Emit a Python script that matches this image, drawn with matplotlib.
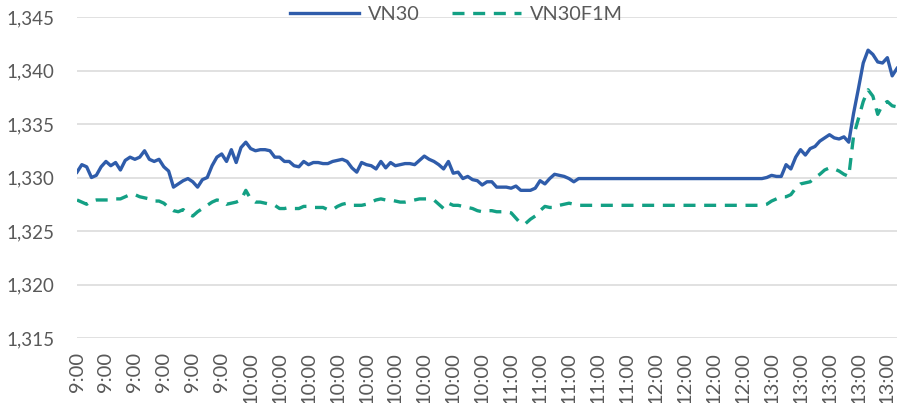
import matplotlib
matplotlib.use("Agg")
import matplotlib.pyplot as plt
from matplotlib.ticker import FuncFormatter

# VN30 vs VN30F1M trong phien
vn30 = [
    1330.5, 1331.2, 1331.0, 1330.0, 1330.2, 1331.0, 1331.5, 1331.1, 1331.4, 1330.7,
    1331.6, 1331.9, 1331.7, 1331.9, 1332.5, 1331.7, 1331.5, 1331.7, 1331.0, 1330.6,
    1329.1, 1329.4, 1329.7, 1329.9, 1329.6, 1329.1, 1329.8, 1330.0, 1331.1, 1331.9,
    1332.2, 1331.5, 1332.6, 1331.4, 1332.8, 1333.3, 1332.7, 1332.5, 1332.6, 1332.6,
    1332.5, 1331.9, 1331.9, 1331.5, 1331.5, 1331.1, 1331.0, 1331.5, 1331.2, 1331.4,
    1331.4, 1331.3, 1331.3, 1331.5, 1331.6, 1331.7, 1331.5, 1330.9, 1330.5, 1331.4,
    1331.2, 1331.1, 1330.8, 1331.5, 1330.9, 1331.4, 1331.1, 1331.2, 1331.3, 1331.3,
    1331.2, 1331.6, 1332.0, 1331.7, 1331.5, 1331.2, 1330.8, 1331.5, 1330.4, 1330.5,
    1329.9, 1330.1, 1329.8, 1329.7, 1329.3, 1329.6, 1329.6, 1329.1, 1329.1, 1329.1,
    1329.0, 1329.2, 1328.8, 1328.8, 1328.8, 1329.0, 1329.7, 1329.4, 1329.9, 1330.3,
    1330.2, 1330.1, 1329.9, 1329.6, 1329.9,
    1329.9, 1329.9, 1329.9, 1329.9, 1329.9, 1329.9, 1329.9, 1329.9, 1329.9, 1329.9,
    1329.9, 1329.9, 1329.9, 1329.9, 1329.9, 1329.9, 1329.9, 1329.9, 1329.9, 1329.9,
    1329.9, 1329.9, 1329.9, 1329.9, 1329.9, 1329.9, 1329.9, 1329.9, 1329.9, 1329.9,
    1329.9, 1329.9, 1329.9, 1329.9, 1329.9, 1329.9, 1329.9, 1329.9,
    1330.0, 1330.2, 1330.1, 1330.1, 1331.2, 1330.8, 1331.9, 1332.6, 1332.1, 1332.7,
    1332.9, 1333.4, 1333.7, 1334.0, 1333.7, 1333.6, 1333.8, 1333.3, 1336.0, 1338.3,
    1340.7, 1341.9, 1341.5, 1340.8, 1340.7, 1341.2, 1339.5, 1340.2,
]

vn30f1m = [
    1327.9, 1327.7, 1327.5, 1327.8, 1327.9, 1327.9, 1327.9, 1327.9, 1328.0, 1328.0,
    1328.2, 1328.4, 1328.4, 1328.2, 1328.1, 1328.0, 1327.8, 1327.8, 1327.6, 1327.2,
    1326.9, 1326.8, 1327.0, 1326.6, 1326.4, 1326.8, 1327.1, 1327.4, 1327.7, 1327.9,
    1327.8, 1327.5, 1327.6, 1327.7, 1327.9, 1328.8, 1328.0, 1327.7, 1327.7, 1327.6,
    1327.5, 1327.4, 1327.1, 1327.1, 1327.2, 1327.1, 1327.1, 1327.3, 1327.3, 1327.2,
    1327.2, 1327.2, 1327.0, 1327.0, 1327.3, 1327.5, 1327.6, 1327.4, 1327.4, 1327.4,
    1327.5, 1327.7, 1327.9, 1328.0, 1327.9, 1327.9, 1327.8, 1327.7, 1327.7, 1327.8,
    1327.9, 1328.0, 1328.0, 1328.0, 1327.9, 1327.5, 1327.1, 1327.6, 1327.4, 1327.4,
    1327.3, 1327.2, 1327.1, 1326.9, 1326.8, 1326.9, 1326.9, 1326.8, 1326.8, 1326.8,
    1326.7, 1326.2, 1325.7, 1325.7, 1326.1, 1326.4, 1326.9, 1327.3, 1327.2, 1327.2,
    1327.4, 1327.5, 1327.6, 1327.5, 1327.4,
    1327.4, 1327.4, 1327.4, 1327.4, 1327.4, 1327.4, 1327.4, 1327.4, 1327.4, 1327.4,
    1327.4, 1327.4, 1327.4, 1327.4, 1327.4, 1327.4, 1327.4, 1327.4, 1327.4, 1327.4,
    1327.4, 1327.4, 1327.4, 1327.4, 1327.4, 1327.4, 1327.4, 1327.4, 1327.4, 1327.4,
    1327.4, 1327.4, 1327.4, 1327.4, 1327.4, 1327.4, 1327.4, 1327.4,
    1327.5, 1327.8, 1328.0, 1328.2, 1328.2, 1328.4, 1329.0, 1329.4, 1329.5, 1329.6,
    1330.0, 1330.3, 1330.7, 1330.9, 1330.8, 1330.6, 1330.3, 1330.1, 1333.9, 1335.5,
    1337.1, 1338.2, 1337.6, 1335.9, 1336.8, 1337.1, 1336.7, 1336.6,
]

# nhan truc x (moi nhan cach 6 diem)
nhan_gio = (["9:00"] * 6 + ["10:00"] * 9 + ["11:00"] * 5
            + ["12:00"] * 4 + ["13:00"] * 5)
buoc_nhan = 6

plt.rcParams['font.family'] = ['Lato', 'DejaVu Sans']

fig = plt.figure(figsize=(9, 4.03), dpi=100)
ax = fig.add_axes([77 / 900, 65 / 403, 820 / 900, 321 / 403])

x = list(range(len(vn30)))
ax.plot(x, vn30, color='#2f5caa', linewidth=2.4, label='VN30')
ax.plot(x, vn30f1m, color='#13a084', linewidth=2.4, linestyle=(0, (3.6, 2.6)),
        label='VN30F1M')

ax.set_xlim(0, len(vn30) - 1)
ax.set_ylim(1315, 1345)
ax.set_yticks(range(1315, 1346, 5))
ax.yaxis.set_major_formatter(FuncFormatter(lambda v, p: f"{int(v):,}"))
ax.grid(axis='y', color='#d9d9d9', linewidth=1.1)
ax.set_axisbelow(True)

vi_tri = [i * buoc_nhan for i in range(len(nhan_gio))]
ax.set_xticks(vi_tri)
ax.set_xticklabels(nhan_gio, rotation=90, va='top', ha='center')

ax.tick_params(axis='y', length=0, pad=16, labelsize=13.5, labelcolor='#595959')
ax.tick_params(axis='x', length=0, pad=10, labelsize=14.5, labelcolor='#595959')
for s in ax.spines.values():
    s.set_visible(False)

leg = fig.legend(loc='upper center', bbox_to_anchor=(0.507, 1.03), ncol=2,
                 frameon=False, fontsize=14.3, handlelength=3.5, columnspacing=1.6,
                 handletextpad=0.45)
for t in leg.get_texts():
    t.set_color('#595959')

fig.savefig('out.png', dpi=100)
